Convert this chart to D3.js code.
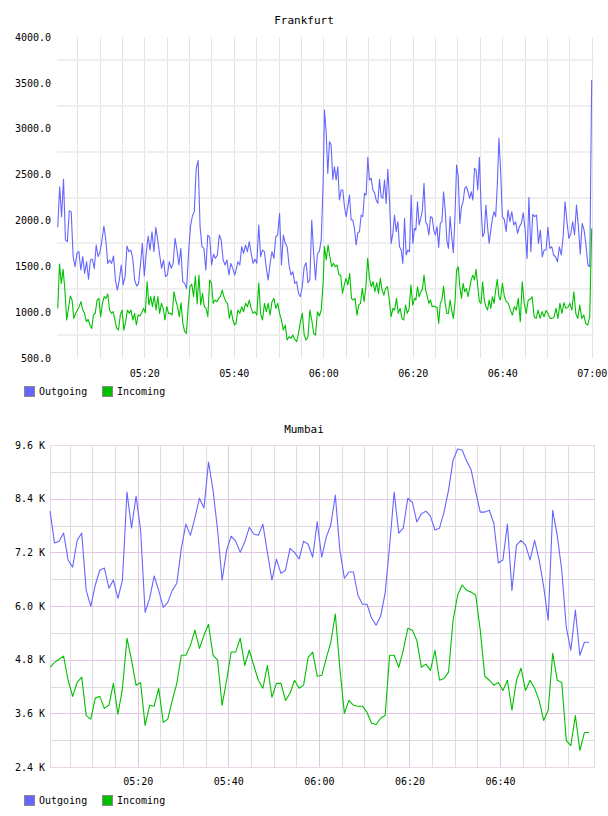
<!DOCTYPE html>
<html>
<head>
<meta charset="utf-8">
<script src="https://cdn.jsdelivr.net/npm/d3@7"></script>
<style>
  body { margin: 0; background: #fff; }
  svg text { font-family: "DejaVu Sans Mono", monospace; }
</style>
</head>
<body>
<svg id="chart" width="608" height="816"></svg>
<script>
"use strict";

// ---- data ----
const seriesNames = ["Outgoing", "Incoming"];
const seriesColors = ["#6666ff", "#00c000"];

// Frankfurt: samples read in time windows (each block spread evenly over its window)
const frankfurtYTicks = [500, 1000, 1500, 2000, 2500, 3000, 3500, 4000];
const frankfurtYGrid = [750, 1250, 1750, 2250, 2750, 3250, 3750];
const frankfurtXTicks = ["05:20", "05:40", "06:00", "06:20", "06:40", "07:00"];
const frankfurtWindows = [
  ["05:00:39", "05:40:12"], ["05:40:30", "05:59:58"], ["06:00:16", "06:20:24"],
  ["06:20:42", "06:39:16"], ["06:39:36", "07:00:00"]
];

const frankfurtOutgoing = [
  [1925,2368,2041,2448,1786,1768,2106,2096,1605,1496,1641,1659,1459,1605,1423,1550,1358,1568,1576,1477,
   1732,1605,1659,1786,1939,1786,1532,1568,1532,1612,1350,1241,1350,1514,1296,1387,1721,1659,1677,1587,
   1350,1285,1307,1514,1750,1394,1641,1830,1677,1877,1659,1925,1786,1623,1477,1568,1387,1405,1550,1477,
   1532,1805,1677,1514,1696,1332,1314,1259,1641,1932,2048,2096,2568,2652,1932,1714,1696,1459,1841,1816,
   1514,1630,1587,1623,1841,1786,1568,1514,1568,1405,1532,1477,1405],
  [1459,1550,1514,1714,1641,1732,1659,1768,1641,1532,1576,1532,1950,1605,1677,1659,1477,1350,1532,1659,
   1586,1823,1841,2077,1514,1841,1750,1714,1514,1405,1441,1314,1332,1205,1168,1277,1496,1539,1321,1357,
   2004,1641,1350,1641,1659,1786,2404],
  [3204,2968,2513,2859,2822,2448,2586,2441,2586,2223,2332,2332,2150,
   2041,2150,2277,2004,2004,1913,1732,1866,1877,2059,2041,2295,2277,2688,2441,2459,2332,2303,2223,2186,
   2448,2259,2241,2441,2186,2557,2223,1750,1859,2059,1877,1986,1714,1677,1532,2023,1623,1677,1659,2277,
   1750,1913],
  [1895,2204,1950,2022,2113,2404,1986,1950,1841,2041,2033,1895,1841,1932,1706,1968,1986,2313,2113,1786,
   1695,2041,1823,1648,2041,2604,2477,1968,2150,2204,2350,2368,2313,2241,2313,2222,2568,2550,2331,2688,
   2168,1823,1859,2168,1932,1750,1895,2022,2095,2041,2386,2895],
  [2586,2041,2012,1877,2113,1986,2095,1950,
   1986,1859,1932,1968,2084,1895,1586,2251,1659,2066,2041,2059,1750,1895,1604,1677,1677,1924,1695,1713,
   1623,1604,1550,1713,1623,1823,2204,1986,1804,1852,1986,1841,2168,1932,1633,1968,1895,1732,1514,1495,
   3530]
];

const frankfurtIncoming = [
  [1041,1525,1314,1467,1241,914,1041,1176,1132,932,987,1023,1060,1114,1023,987,896,921,860,823,
   969,987,1132,1150,950,1096,1169,1150,1198,1023,987,1005,914,823,805,969,1023,805,896,1023,
   987,1023,914,987,860,969,958,994,1041,994,1332,1078,1169,1060,1176,1023,1169,987,1096,1041,
   914,1060,987,987,969,1223,1132,1060,950,1103,878,787,769,1060,1278,1307,1169,1394,1089,1405,
   1078,1205,1060,1041,950,1350,1314,1096,1132,1114,1150,1169,1241,1169,1114,1096,932,1023,914,860],
  [877,1023,987,1059,1005,1096,1059,1132,1041,987,1005,968,1321,987,914,1096,1005,1096,968,1114,
   1150,1041,1096,987,914,805,859,696,732,714,750,703,678,769,896,987,750,696,732,1023,
   914,769,750,1005,958,1023,1314],
  [1714,1568,1732,1605,1496,1532,1496,1514,1405,1405,1205,1296,1368,
   1296,1423,1150,1132,1150,968,1077,1096,1259,1114,1277,1586,1368,1277,1332,1223,1321,1205,1368,1241,
   1186,1259,1277,1132,950,1041,1023,1150,987,1041,932,914,1077,987,1041,1296,1077,1150],
  [1132,1277,1168,1223,1248,1404,1241,1168,1096,1132,1059,1066,1059,1052,877,1096,1132,1284,1096,986,
   986,1132,1023,932,1096,1459,1495,1277,1150,1314,1223,1259,1168,1259,1357,1404,1350,1466,1277,1114,
   1096,1332,1132,1059,1023,1132,1041,1168,1096,1241,1357,1168],
  [1132,1314,1168,1114,1096,1023,968,1059,
   1023,1150,896,1332,1096,986,1132,1139,1168,950,932,1023,932,1005,950,1016,986,932,932,943,
   1041,932,1096,986,1103,1041,1052,1096,1023,1223,986,932,1077,932,968,877,859,950,1913]
];

// Mumbai: one sample per minute, values in thousands
const mumbaiYTicks = [2.4, 3.6, 4.8, 6.0, 7.2, 8.4, 9.6];
const mumbaiYGrid = [3.0, 4.2, 5.4, 6.6, 7.8, 9.0];
const mumbaiXTicks = ["05:20", "05:40", "06:00", "06:20", "06:40"];
const mumbaiStart = "05:00:38";
const mumbaiStepSeconds = 60;

const mumbaiOutgoing = [
  8.12,7.41,7.45,7.63,7.03,6.87,7.47,7.63,6.35,5.99, 6.47,6.80,6.85,6.40,6.58,6.17,6.58,8.55,7.74,8.46,
  7.70,5.86,6.17,6.67,6.35,5.97,6.08,6.35,6.51,7.29, 7.83,7.58,7.97,8.41,8.19,9.22,8.59,7.70,6.58,7.25,
  7.56,7.45,7.20,7.43,7.76,7.61,7.58,7.83,7.20,6.58, 7.05,6.73,6.80,7.29,7.20,7.05,7.45,7.38,7.09,7.88,
  7.09,7.54,7.81,8.48,7.25,6.62,6.76,6.76,6.24,6.04, 6.04,5.73,5.57,5.77,6.29,7.36,8.55,7.63,7.74,8.41,
  8.32,7.88,8.06,8.12,8.01,7.70,7.74,8.10,8.59,9.26, 9.51,9.49,9.24,9.04,8.55,8.10,8.10,8.14,7.85,6.96,
  7.03,7.83,6.35,7.36,7.47,7.36,7.03,7.47,7.03,6.44, 5.68,8.14,7.58,6.80,5.52,5.01,5.91,4.90,5.19,5.19
];
const mumbaiIncoming = [
  4.63,4.74,4.81,4.88,4.34,3.98,4.29,4.41,3.55,3.47, 3.94,3.98,3.71,3.78,4.27,3.58,4.16,5.28,4.79,4.23,
  4.29,3.33,3.78,3.76,4.16,3.40,3.47,3.89,4.27,4.90, 4.90,5.12,5.46,5.05,5.35,5.59,4.90,4.79,3.78,4.34,
  4.97,4.97,5.28,4.67,5.01,4.67,4.34,4.16,4.67,3.96, 4.27,4.27,3.89,4.05,4.34,4.16,4.23,4.85,4.97,4.43,
  4.45,4.83,5.19,5.82,4.61,3.60,3.89,3.78,3.76,3.76, 3.62,3.38,3.35,3.49,3.55,4.90,4.90,4.63,5.01,5.50,
  5.46,5.23,4.63,4.70,4.56,5.01,4.34,4.38,4.52,5.68, 6.24,6.47,6.35,6.31,6.24,5.46,4.43,4.34,4.23,4.29,
  4.11,4.34,3.67,4.34,4.61,4.11,4.34,4.16,3.89,3.44, 3.67,4.94,4.34,4.29,2.99,2.88,3.55,2.77,3.17,3.17
];

// ---- helpers ----
const parseClock = s => d3.utcParse("%Y-%m-%d %H:%M:%S")("2020-01-01 " + (s.length === 5 ? s + ":00" : s));
const fmtClock = d3.utcFormat("%H:%M");

function spreadBlocks(blocks, windows) {
  return blocks.flatMap((vals, b) => {
    let t0 = +parseClock(windows[b][0]), t1 = +parseClock(windows[b][1]);
    let step = (t1 - t0) / (vals.length - 1);
    return vals.map((v, i) => ({ time: new Date(t0 + i * step), value: v }));
  });
}

function stepSeries(vals, start, stepSec) {
  let t0 = +parseClock(start);
  return vals.map((v, i) => ({ time: new Date(t0 + i * stepSec * 1000), value: v }));
}

let px = v => Math.round(v) + 0.5;

function drawPanel(svg, cfg) {
  let p = cfg.plot;
  let x = d3.scaleUtc().domain(cfg.xDomain.map(parseClock)).range([p.left, p.right]);
  let y = d3.scaleLinear().domain(cfg.yDomain).range([p.bottom, p.top]);
  let g = svg.append("g");

  // title
  g.append("text").attr("x", 304).attr("y", cfg.titleY)
    .attr("text-anchor", "middle").style("font-size", "11px").attr("fill", "#000")
    .text(cfg.title);

  // grid
  let grid = g.append("g").attr("fill", "none");
  let minorTimes = d3.utcMinute.every(5).range(x.domain()[0], parseClock(cfg.gridEnd));
  grid.selectAll(".vgrid").data(minorTimes).enter().append("line")
    .attr("x1", d => px(x(d))).attr("x2", d => px(x(d)))
    .attr("y1", p.top).attr("y2", p.bottom)
    .attr("stroke", cfg.minorColor).attr("stroke-width", 1);
  grid.selectAll(".hgrid").data(cfg.yGrid).enter().append("line")
    .attr("x1", p.left).attr("x2", p.right)
    .attr("y1", d => cfg.hWidth === 1 ? px(y(d)) : Math.round(y(d)))
    .attr("y2", d => cfg.hWidth === 1 ? px(y(d)) : Math.round(y(d)))
    .attr("stroke", cfg.hColor).attr("stroke-width", cfg.hWidth);

  if (cfg.majorColor) {
    grid.selectAll(".vmajor").data(cfg.xTicks.map(parseClock)).enter().append("line")
      .attr("x1", d => px(x(d))).attr("x2", d => px(x(d)))
      .attr("y1", p.top).attr("y2", p.bottom)
      .attr("stroke", cfg.majorColor);
    grid.selectAll(".hmajor").data(cfg.yTicks).enter().append("line")
      .attr("x1", p.left).attr("x2", p.right)
      .attr("y1", d => px(y(d))).attr("y2", d => px(y(d)))
      .attr("stroke", cfg.majorColor);
    grid.append("rect")
      .attr("x", px(p.left)).attr("y", px(p.top))
      .attr("width", Math.round(p.right - p.left)).attr("height", Math.round(p.bottom - p.top))
      .attr("stroke", cfg.borderColor);
  }

  // axes (labels only)
  let yAxis = d3.axisLeft(y).tickValues(cfg.yTicks).tickFormat(cfg.yFormat)
    .tickSize(0).tickPadding(cfg.yPad);
  let ya = g.append("g").attr("transform", `translate(${p.left},0)`).call(yAxis);
  let xAxis = d3.axisBottom(x).tickValues(cfg.xTicks.map(parseClock)).tickFormat(fmtClock)
    .tickSize(0).tickPadding(cfg.xPad);
  let xa = g.append("g").attr("transform", `translate(0,${p.bottom})`).call(xAxis);
  [ya, xa].forEach(a => {
    a.select(".domain").remove();
    a.attr("font-family", null).attr("font-size", null);
    a.selectAll("text").style("font-size", "10px").attr("fill", "#000");
  });

  // series
  let line = d3.line().x(d => x(d.time)).y(d => y(d.value));
  cfg.series.forEach((s, i) => {
    g.append("path").datum(s)
      .attr("fill", "none").attr("stroke", seriesColors[i])
      .attr("stroke-width", 1.1).attr("stroke-linejoin", "round")
      .attr("d", line);
  });

  // legend
  let legendX = [24, 102];
  seriesNames.forEach((name, i) => {
    g.append("rect").attr("x", legendX[i] + 0.5).attr("y", cfg.legendY + 0.5)
      .attr("width", 10).attr("height", 10)
      .attr("fill", seriesColors[i]).attr("stroke", "#888");
    g.append("text").attr("x", legendX[i] + 15).attr("y", cfg.legendY + 9)
      .style("font-size", "10px").attr("fill", "#000").text(name);
  });
}

let svg = d3.select("#chart");
svg.append("rect").attr("width", 608).attr("height", 816).attr("fill", "#fff");

drawPanel(svg, {
  title: "Frankfurt", titleY: 24,
  plot: { left: 57, right: 594, top: 37, bottom: 358 },
  xDomain: ["05:00:29", "07:00:31"], gridEnd: "07:00:31",
  yDomain: [500, 4000],
  yTicks: frankfurtYTicks, yGrid: frankfurtYGrid, xTicks: frankfurtXTicks,
  yFormat: d3.format(".1f"), yPad: 6, xPad: 12,
  minorColor: "#e4e4e4", hColor: "#efefef", hWidth: 2,
  legendY: 386,
  series: [spreadBlocks(frankfurtOutgoing, frankfurtWindows), spreadBlocks(frankfurtIncoming, frankfurtWindows)]
});

drawPanel(svg, {
  title: "Mumbai", titleY: 433,
  plot: { left: 50, right: 594, top: 445, bottom: 767 },
  xDomain: ["05:00:38", "07:00:45"], gridEnd: "07:00:00",
  yDomain: [2.4, 9.6],
  yTicks: mumbaiYTicks, yGrid: mumbaiYGrid, xTicks: mumbaiXTicks,
  yFormat: d => d.toFixed(1) + " K", yPad: 5, xPad: 11,
  minorColor: "#dddddd", hColor: "#dddddd", hWidth: 1,
  majorColor: "#e2c6e2", borderColor: "#ead8ea",
  legendY: 795,
  series: [stepSeries(mumbaiOutgoing, mumbaiStart, mumbaiStepSeconds), stepSeries(mumbaiIncoming, mumbaiStart, mumbaiStepSeconds)]
});
</script>
</body>
</html>
